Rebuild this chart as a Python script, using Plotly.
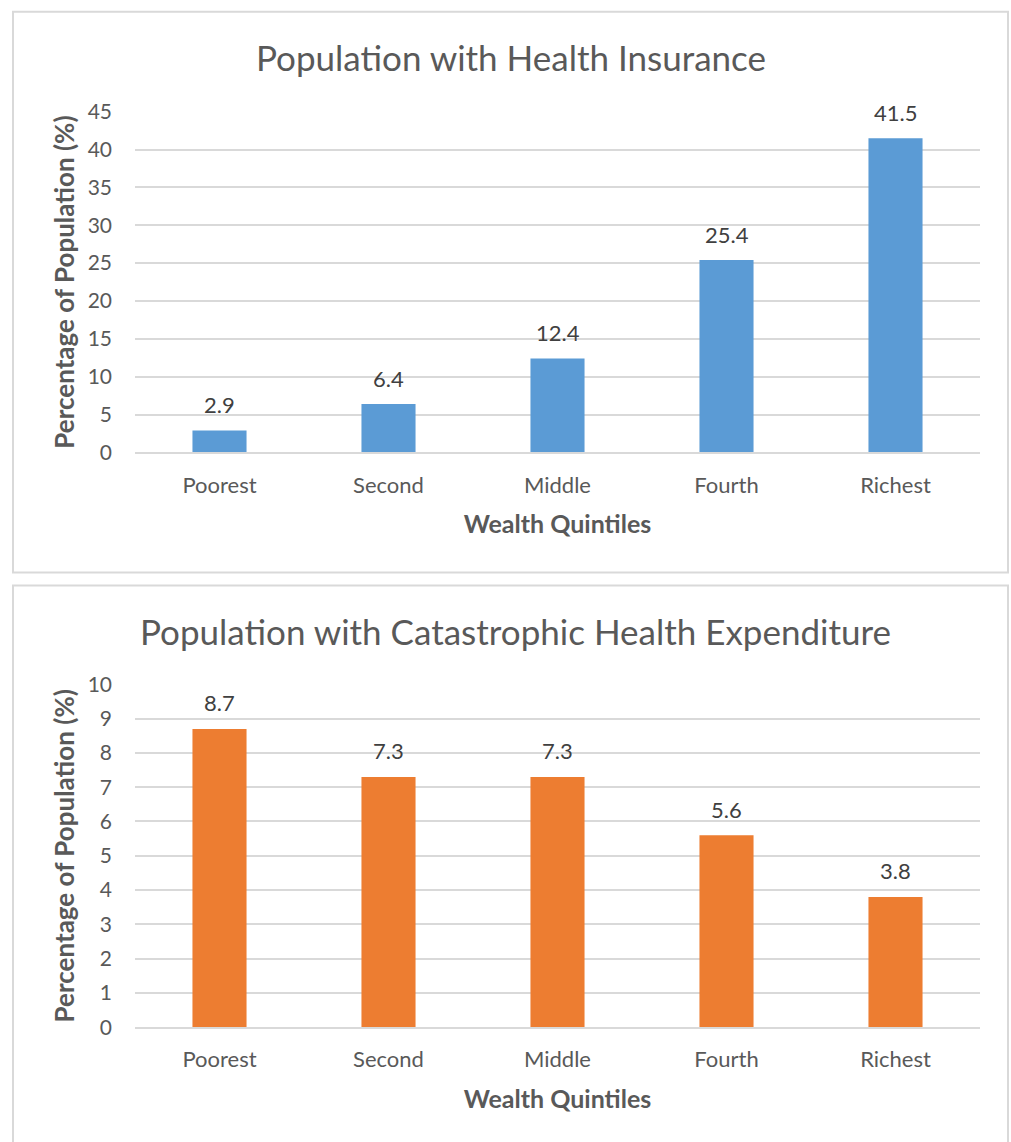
import plotly.graph_objects as go

categories = ["Poorest", "Second", "Middle", "Fourth", "Richest"]
insurance = [2.9, 6.4, 12.4, 25.4, 41.5]
catastrophic = [8.7, 7.3, 7.3, 5.6, 3.8]
title_top = "Population with Health Insurance"
title_bottom = "Population with Catastrophic Health Expenditure"
x_title = "Wealth Quintiles"
y_title = "Percentage of Population (%)"

W, H = 1011, 1142
FONT = "Lato"
GREY = "#595959"
LABEL = "#404040"

# map a target pixel row to paper coordinates (compensating the photographed page scaling)
def py(p):
    return 1 - ((p - 14.3) / 0.9786) / H

def px(p):
    return p / W

fig = go.Figure()
fig.add_trace(go.Bar(x=categories, y=insurance, marker_color="#5B9BD5",
                     marker_line_width=0, width=0.32, xaxis="x", yaxis="y", hoverinfo="skip"))
fig.add_trace(go.Bar(x=categories, y=catastrophic, marker_color="#ED7D31",
                     marker_line_width=0, width=0.32, xaxis="x2", yaxis="y2", hoverinfo="skip"))

xd = [px(135), px(980)]
common_x = dict(showgrid=False, showline=True, linecolor="#D9D9D9", linewidth=1.5,
                ticks="", ticklabelstandoff=12, tickfont=dict(size=22, color=GREY, family=FONT),
                title=dict(text="<b>" + x_title + "</b>", font=dict(size=25, color=GREY, family=FONT), standoff=19))
common_y = dict(showgrid=True, gridcolor="#D9D9D9", gridwidth=1.5, zeroline=False,
                showline=False, ticks="", ticklabelstandoff=22, tickfont=dict(size=21, color=GREY, family=FONT),
                title=dict(text="<b>" + y_title + "</b>", font=dict(size=26, color=GREY, family=FONT), standoff=5))

annotations = [
    dict(text=title_top, xref="paper", yref="paper", x=px(511), y=py(57), showarrow=False,
         xanchor="center", yanchor="middle", font=dict(size=35, color=GREY, family=FONT)),
    dict(text=title_bottom, xref="paper", yref="paper", x=px(515), y=py(632), showarrow=False,
         xanchor="center", yanchor="middle", font=dict(size=35, color=GREY, family=FONT)),
]
for c, v in zip(categories, insurance):
    annotations.append(dict(text=f"{v:.1f}", x=c, y=v, xref="x", yref="y", showarrow=False,
                            yshift=26, yanchor="middle", font=dict(size=22, color=LABEL, family=FONT)))
for c, v in zip(categories, catastrophic):
    annotations.append(dict(text=f"{v:.1f}", x=c, y=v, xref="x2", yref="y2", showarrow=False,
                            yshift=26, yanchor="middle", font=dict(size=22, color=LABEL, family=FONT)))

fig.update_layout(
    width=W, height=H, margin=dict(l=0, r=0, t=0, b=0),
    paper_bgcolor="white", plot_bgcolor="white", showlegend=False,
    font=dict(family=FONT, color=GREY),
    xaxis=dict(domain=xd, anchor="y", **common_x),
    yaxis=dict(domain=[py(453), py(112)], anchor="x", range=[0, 45], dtick=5, **common_y),
    xaxis2=dict(domain=xd, anchor="y2", **common_x),
    yaxis2=dict(domain=[py(1028), py(685)], anchor="x2", range=[0, 10], dtick=1, **common_y),
    shapes=[
        dict(type="rect", xref="paper", yref="paper", x0=px(13), x1=px(1008), y0=py(573), y1=py(12),
             line=dict(color="#D9D9D9", width=2)),
        dict(type="rect", xref="paper", yref="paper", x0=px(13), x1=px(1008), y0=py(1160), y1=py(586),
             line=dict(color="#D9D9D9", width=2)),
    ],
    annotations=annotations,
)

fig.write_html(
    "out.html",
    config={"displayModeBar": False},
    post_script=(
        "document.documentElement.style.margin='0';"
        "document.documentElement.style.overflow='hidden';"
        "document.body.style.margin='0';document.body.style.overflow='hidden';"
        "var d=document.getElementById('{plot_id}');"
        "d.style.position='fixed';d.style.top='0px';d.style.left='0px';"
    ),
)
